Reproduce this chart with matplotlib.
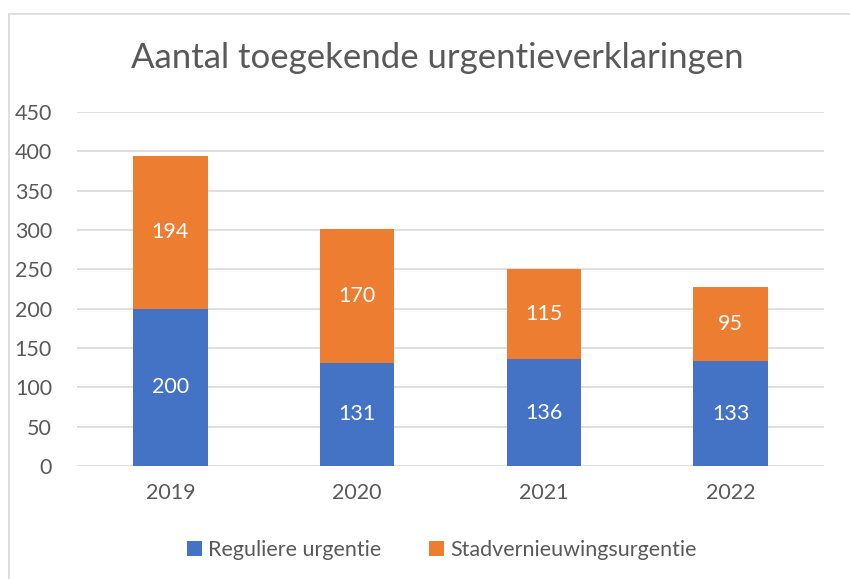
import matplotlib
matplotlib.use("Agg")
import matplotlib.pyplot as plt
from matplotlib.lines import Line2D
import numpy as np

years = ["2019", "2020", "2021", "2022"]
regulier = [200, 131, 136, 133]
stadvernieuwing = [194, 170, 115, 95]
series_names = ["Reguliere urgentie", "Stadvernieuwingsurgentie"]
title = "Aantal toegekende urgentieverklaringen"

plt.rcParams['font.family'] = ['Lato', 'DejaVu Sans']
gray = '#595959'
blue = '#4472C4'
orange = '#ED7D31'

fig = plt.figure(figsize=(8.5, 5.79), dpi=100)
W, H = 850, 579
ax = fig.add_axes([77 / W, 1 - 466 / H, (824 - 77) / W, (466 - 112) / H])

x = np.arange(len(years))
b1 = ax.bar(x, regulier, width=0.4, color=blue, label=series_names[0], zorder=3)
b2 = ax.bar(x, stadvernieuwing, width=0.4, bottom=regulier, color=orange,
            label=series_names[1], zorder=3)
for rect, v in zip(b1, regulier):
    ax.text(rect.get_x() + rect.get_width() / 2, rect.get_y() + rect.get_height() / 2,
            str(v), ha='center', va='center', color='white', fontsize=15.5, zorder=4)
for rect, v in zip(b2, stadvernieuwing):
    ax.text(rect.get_x() + rect.get_width() / 2, rect.get_y() + rect.get_height() / 2,
            str(v), ha='center', va='center', color='white', fontsize=15.5, zorder=4)

ax.set_xlim(-0.5, len(years) - 0.5)
ax.set_ylim(0, 450)
ax.set_yticks(np.arange(0, 451, 50))
ax.set_xticks(x)
ax.set_xticklabels(years)
ax.grid(axis='y', color='#D9D9D9', linewidth=1.2, zorder=0)
for s in ax.spines.values():
    s.set_visible(False)
ax.tick_params(axis='both', length=0, labelsize=15.5, labelcolor=gray)
ax.tick_params(axis='y', pad=18)
ax.tick_params(axis='x', pad=12)

fig.text(437 / W, 1 - 58 / H, title, ha='center', va='center', fontsize=25, color=gray)

leg = fig.legend(handles=[b1, b2], labels=series_names, loc='center',
                 bbox_to_anchor=(442 / W, 1 - 550 / H), ncol=2, frameon=False,
                 fontsize=15.5, labelcolor=gray, handlelength=0.7, handleheight=0.7,
                 columnspacing=2.2, handletextpad=0.3)

# chart border
fig.add_artist(Line2D([9 / W, 9 / W], [0, 1 - 13.5 / H], transform=fig.transFigure,
                      color='#D9D9D9', linewidth=1.2))
fig.add_artist(Line2D([9 / W, 849.5 / W], [1 - 13.5 / H, 1 - 13.5 / H],
                      transform=fig.transFigure, color='#D9D9D9', linewidth=1.2))

fig.savefig("out.png", dpi=100)
